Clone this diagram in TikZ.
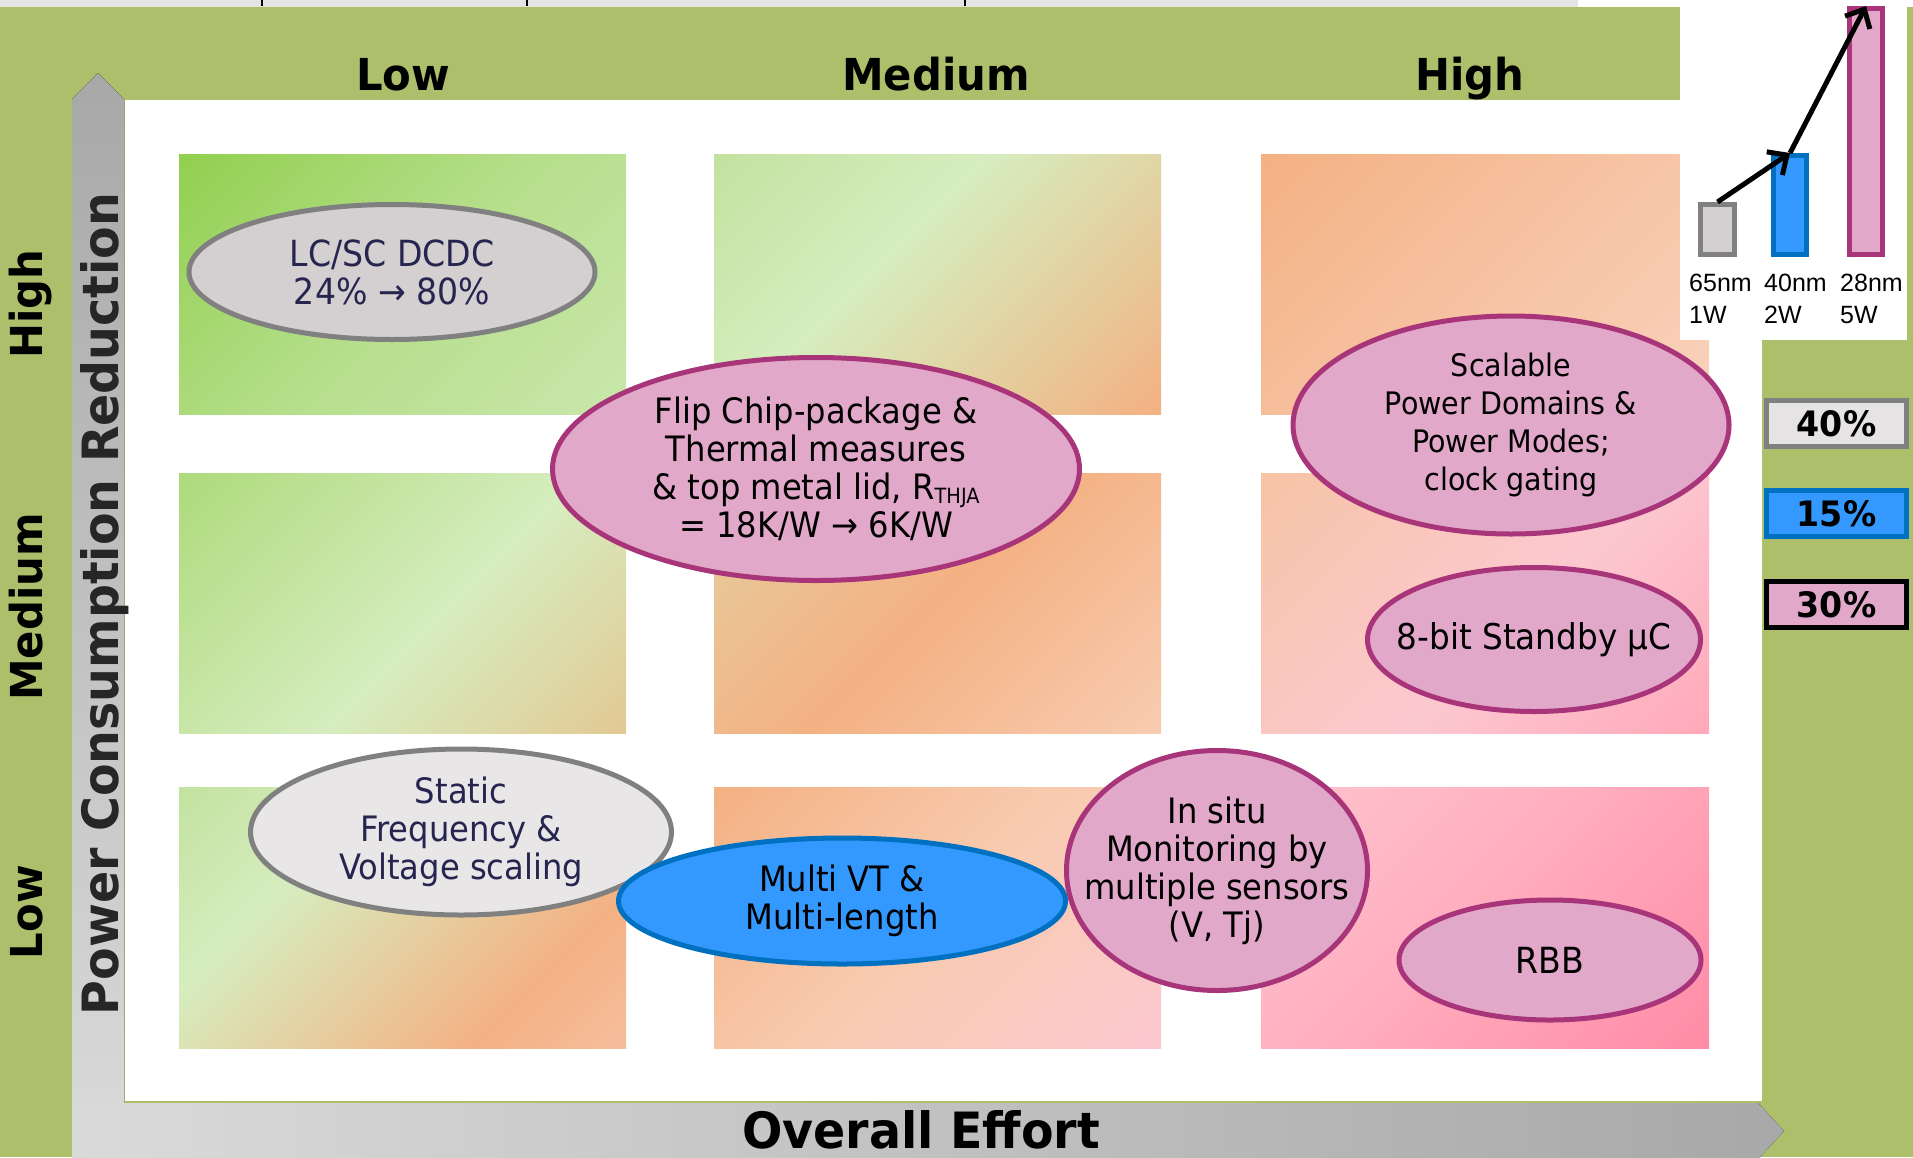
\documentclass[tikz,border=0pt]{standalone}
\usepackage{fontspec}
\usetikzlibrary{shapes.geometric,arrows.meta}

\newfontfamily\ellfont{DejaVu Sans}[FakeStretch=0.92]
\newfontfamily\headfont{DejaVu Sans}[FakeStretch=0.95]
\newfontfamily\chartfont{Liberation Sans}

% base colours
\definecolor{bggreen}{HTML}{ADBF6B}
\definecolor{stripgrey}{HTML}{E6E3E4}
\definecolor{pinkfill}{HTML}{E2A8C9}
\definecolor{pinkline}{HTML}{A8347A}
\definecolor{greyfill}{HTML}{D4CFD0}
\definecolor{lightgreyfill}{HTML}{E8E6E7}
\definecolor{greyline}{HTML}{808080}
\definecolor{bluefill}{HTML}{3399FF}
\definecolor{blueline}{HTML}{0070C0}
\definecolor{navytext}{HTML}{25254F}
\definecolor{axisdark}{HTML}{A8A8A8}
\definecolor{axislight}{HTML}{DADADA}
\definecolor{axistext}{HTML}{262626}

% cell gradient colours
\definecolor{gStrong}{HTML}{92D050}
\definecolor{gMid}{HTML}{B5DE8A}
\definecolor{gSoft}{HTML}{C9E7AC}
\definecolor{gLight}{HTML}{C3E2A0}
\definecolor{gLeaf}{HTML}{AEDA7C}
\definecolor{gPale}{HTML}{D6EDBF}
\definecolor{cTan}{HTML}{E4CE9E}
\definecolor{cTanB}{HTML}{E2C995}
\definecolor{cOrange}{HTML}{F4B183}
\definecolor{cOrangeB}{HTML}{F6BD9C}
\definecolor{cApricot}{HTML}{F6C2A2}
\definecolor{cPeach}{HTML}{F8CBB0}
\definecolor{cPeachB}{HTML}{F7C4A6}
\definecolor{cShell}{HTML}{F9D2BC}
\definecolor{cRose}{HTML}{FCC8D0}
\definecolor{cRoseB}{HTML}{FFA9BA}
\definecolor{cPinkA}{HTML}{FFC3CE}
\definecolor{cPinkM}{HTML}{FFB0C0}
\definecolor{cPinkB}{HTML}{FF8CA6}

% diagonal cell gradients (row = reduction, column = effort)
\pgfdeclarehorizontalshading{shHL}{100bp}{color(0bp)=(gStrong); color(15bp)=(gStrong); color(50bp)=(gMid); color(85bp)=(gSoft); color(100bp)=(gSoft)}
\pgfdeclarehorizontalshading{shHM}{100bp}{color(0bp)=(gLight); color(15bp)=(gLight); color(42bp)=(gPale); color(65bp)=(cTan); color(85bp)=(cOrange); color(100bp)=(cOrange)}
\pgfdeclarehorizontalshading{shHH}{100bp}{color(0bp)=(cOrange); color(15bp)=(cOrange); color(50bp)=(cApricot); color(85bp)=(cShell); color(100bp)=(cShell)}
\pgfdeclarehorizontalshading{shML}{100bp}{color(0bp)=(gLeaf); color(15bp)=(gLeaf); color(55bp)=(gPale); color(85bp)=(cTanB); color(100bp)=(cTanB)}
\pgfdeclarehorizontalshading{shMM}{100bp}{color(0bp)=(cTan); color(15bp)=(cTan); color(50bp)=(cOrange); color(85bp)=(cPeach); color(100bp)=(cPeach)}
\pgfdeclarehorizontalshading{shMH}{100bp}{color(0bp)=(cPeachB); color(15bp)=(cPeachB); color(55bp)=(cRose); color(85bp)=(cRoseB); color(100bp)=(cRoseB)}
\pgfdeclarehorizontalshading{shLL}{100bp}{color(0bp)=(gLight); color(15bp)=(gLight); color(35bp)=(gPale); color(70bp)=(cOrange); color(85bp)=(cOrangeB); color(100bp)=(cOrangeB)}
\pgfdeclarehorizontalshading{shLM}{100bp}{color(0bp)=(cOrange); color(15bp)=(cOrange); color(50bp)=(cPeach); color(85bp)=(cRose); color(100bp)=(cRose)}
\pgfdeclarehorizontalshading{shLH}{100bp}{color(0bp)=(cPinkA); color(15bp)=(cPinkA); color(45bp)=(cPinkM); color(85bp)=(cPinkB); color(100bp)=(cPinkB)}

\tikzset{
  cell/.style={shading angle=-45},
  ell/.style={ellipse, line width=5pt, inner sep=0pt},
  pinkell/.style={ell, draw=pinkline, fill=pinkfill},
  greyell/.style={ell, draw=greyline},
  blueell/.style={ell, draw=blueline, fill=bluefill},
  elltext/.style={align=center, inner sep=0pt, text=black,
    font=\ellfont\fontsize{35}{38}\selectfont},
  navyelltext/.style={elltext, text=navytext},
  head/.style={font=\headfont\bfseries\fontsize{44}{44}\selectfont, text=black, inner sep=0pt},
  axislabel/.style={font=\headfont\bfseries\fontsize{50}{50}\selectfont, inner sep=0pt},
  bar/.style={rectangle, line width=5pt, inner sep=0pt, minimum width=34pt},
  barlabel/.style={font=\chartfont\fontsize{25}{32}\selectfont, align=left, anchor=north west, inner sep=0pt, text=black},
  pct/.style={rectangle, line width=5pt, minimum width=140pt, minimum height=46pt, inner sep=0pt,
    font=\headfont\bfseries\fontsize{35}{35}\selectfont, text=black},
  growth/.style={line width=5pt, -{Straight Barb[length=15pt,width=28pt]}}
}

\begin{document}
\begin{tikzpicture}[x=1pt,y=-1pt]
\useasboundingbox (0,0) rectangle (1913,1157);

% backdrop
\fill[bggreen] (0,0) rectangle (1913,1157);
\fill[stripgrey] (0,0) rectangle (1578,7);
\fill[white] (1578,0) rectangle (1913,7);
\foreach \tx in {262,527,965} \draw[line width=2.5pt] (\tx,0) -- (\tx,6);
\fill[white] (125,100) rectangle (1762,1101);

% axis arrows
\fill[top color=axisdark, bottom color=axislight]
  (72,1157) -- (72,99) -- (98,73) -- (124,99) -- (124,1157) -- cycle;
\fill[left color=axislight, right color=axisdark]
  (72,1103) -- (1758,1103) -- (1784,1131) -- (1758,1159) -- (72,1159) -- cycle;

% grid of cells
\path[cell, shading=shHL] (179,154) rectangle (626,414);
\path[cell, shading=shHM] (714,154) rectangle (1161,414);
\path[cell, shading=shHH] (1261,154) rectangle (1709,414);
\path[cell, shading=shML] (179,473) rectangle (626,733);
\path[cell, shading=shMM] (714,473) rectangle (1161,733);
\path[cell, shading=shMH] (1261,473) rectangle (1709,733);
\path[cell, shading=shLL] (179,787) rectangle (626,1048);
\path[cell, shading=shLM] (714,787) rectangle (1161,1048);
\path[cell, shading=shLH] (1261,787) rectangle (1709,1048);

% technique bubbles
\node[greyell, fill=greyfill, minimum width=406pt, minimum height=135pt] (dcdc) at (392,272) {};
\node[navyelltext, font=\ellfont\fontsize{36}{38}\selectfont] (dcdcTxt) at (dcdc.center)
  {LC/SC DCDC\\24\% → 80\%};

\node[pinkell, minimum width=527pt, minimum height=223pt] (flip) at (816,469) {};
\node[elltext] (flipTxt) at (flip.center)
  {Flip Chip-package \&\\Thermal measures\\\& top metal lid, R\raisebox{-4pt}{\fontsize{21}{21}\selectfont THJA}\\= 18K/W → 6K/W};

\node[pinkell, minimum width=436pt, minimum height=218pt] (scal) at (1511,425) {};
\node[elltext, font=\ellfont\fontsize{31}{38}\selectfont] (scalTxt) at (scal.center)
  {Scalable\\Power Domains \&\\Power Modes;\\clock gating};

\node[pinkell, minimum width=333pt, minimum height=144pt] (stby) at (1534,639.5) {};
\node[elltext, font=\ellfont\fontsize{35.5}{38}\selectfont] (stbyTxt) at (stby.center)
  {8-bit Standby µC};

\node[greyell, fill=lightgreyfill, minimum width=421pt, minimum height=166pt] (dvfs) at (461,832) {};
\node[navyelltext] (dvfsTxt) at (dvfs.center)
  {Static\\Frequency \&\\Voltage scaling};

\node[blueell, minimum width=447pt, minimum height=126pt] (mvt) at (842,901) {};
\node[elltext] (mvtTxt) at (mvt.center) {Multi VT \&\\Multi-length};

\node[pinkell, minimum width=301pt, minimum height=240pt] (insitu) at (1217,870.5) {};
\node[elltext] (insituTxt) at (insitu.center)
  {In situ\\Monitoring by\\multiple sensors\\(V, Tj)};

\node[pinkell, minimum width=302pt, minimum height=120pt] (rbb) at (1550,960) {};
\node[elltext, font=\ellfont\fontsize{36}{38}\selectfont] (rbbTxt) at (rbb.center) {RBB};

% technology node chart
\fill[white] (1680,0) rectangle (1907,340);
\node[bar, draw=greyline, fill=greyfill, minimum height=50pt] (g65) at (1717.5,229.5) {};
\node[bar, draw=blueline, fill=bluefill, minimum height=99pt, minimum width=33pt] (b40) at (1790,205) {};
\node[bar, draw=pinkline, fill=pinkfill, minimum height=246pt, minimum width=33pt] (p28) at (1866,131.5) {};
\draw[growth] (g65.north) -- (b40.north);
\draw[growth] (b40.north) -- (p28.north);
\node[barlabel] (l65) at (1689,274) {65nm\\1W};
\node[barlabel] (l40) at (1764,274) {40nm\\2W};
\node[barlabel] (l28) at (1840,274) {28nm\\5W};

% share per technique
\node[pct, draw=greyline, fill=stripgrey] (pct40) at (1836.5,423.5) {40\%};
\node[pct, draw=blueline, fill=bluefill] (pct15) at (1836.5,513.5) {15\%};
\node[pct, draw=black, fill=pinkfill] (pct30) at (1836.5,604.5) {30\%};

% effort headings
\node[head, anchor=base] (effLow) at (403,90) {Low};
\node[head, anchor=base] (effMed) at (936,90) {Medium};
\node[head, anchor=base] (effHigh) at (1470,90) {High};

% reduction headings
\node[head, rotate=90, anchor=base] (redHigh) at (42,304) {High};
\node[head, rotate=90, anchor=base] (redMed) at (42,607) {Medium};
\node[head, rotate=90, anchor=base] (redLow) at (42,912) {Low};

% axis titles
\node[axislabel, text=axistext, rotate=90, anchor=base] (yaxis) at (118,604) {Power Consumption Reduction};
\node[axislabel, text=black, anchor=base] (xaxis) at (921,1148) {Overall Effort};
\end{tikzpicture}
\end{document}
